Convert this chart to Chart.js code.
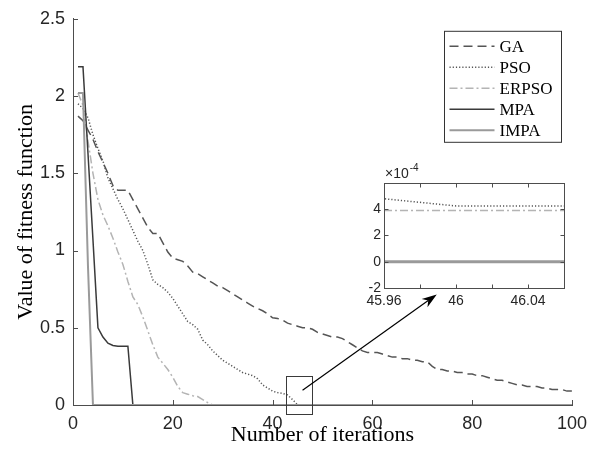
<!DOCTYPE html>
<html>
<head>
<meta charset="utf-8">
<script src="https://cdn.jsdelivr.net/npm/chart.js@4.4.1/dist/chart.umd.min.js"></script>
<style>
  body { margin: 0; background: #fff; }
  #wrap { position: relative; width: 596px; height: 463px; }
  #main { position: absolute; left: 0; top: 0; width: 596px; height: 463px; }
  #zoomBox { position: absolute; left: 340px; top: 160px; width: 240px; height: 155px; }
</style>
</head>
<body>
<div id="wrap">
  <div id="main"><canvas id="mainChart"></canvas></div>
  <div id="zoomBox"><canvas id="insetChart"></canvas></div>
</div>
<script>
// iteration numbers 1..100
const iterations = Array.from({ length: 100 }, (_, i) => i + 1);

const GA = [
  1.87, 1.84, 1.78, 1.72, 1.64, 1.57, 1.50, 1.42, 1.39, 1.39,
  1.39, 1.33, 1.27, 1.21, 1.15, 1.11, 1.11, 1.05, 0.99, 0.95,
  0.94, 0.93, 0.90, 0.86, 0.85, 0.83, 0.81, 0.79, 0.77, 0.76,
  0.74, 0.72, 0.70, 0.68, 0.66, 0.64, 0.625, 0.61, 0.59, 0.565,
  0.56, 0.55, 0.53, 0.52, 0.51, 0.50, 0.50, 0.49, 0.47, 0.46,
  0.45, 0.44, 0.44, 0.43, 0.41, 0.39, 0.37, 0.35, 0.34, 0.34,
  0.34, 0.33, 0.32, 0.31, 0.31, 0.30, 0.30, 0.29, 0.29, 0.28,
  0.28, 0.25, 0.23, 0.23, 0.22, 0.22, 0.21, 0.21, 0.20, 0.20,
  0.19, 0.19, 0.18, 0.17, 0.16, 0.16, 0.15, 0.14, 0.13, 0.13,
  0.12, 0.12, 0.12, 0.11, 0.11, 0.10, 0.10, 0.10, 0.09, 0.09
];
const PSO = [
  1.95, 1.92, 1.86, 1.75, 1.66, 1.58, 1.47, 1.40, 1.33, 1.27,
  1.20, 1.13, 1.06, 1.00, 0.91, 0.81, 0.78, 0.76, 0.73, 0.69,
  0.64, 0.59, 0.54, 0.52, 0.49, 0.42, 0.39, 0.35, 0.32, 0.29,
  0.27, 0.25, 0.23, 0.21, 0.20, 0.19, 0.17, 0.13, 0.11, 0.09,
  0.08, 0.075, 0.065, 0.035, 0.0018, 0.000425, 0.000425, 0.000425, 0.000425, 0.000425,
  0.000425, 0.000425, 0.000425, 0.000425, 0.000425, 0.000425, 0.000425, 0.000425, 0.000425, 0.000425,
  0.000425, 0.000425, 0.000425, 0.000425, 0.000425, 0.000425, 0.000425, 0.000425, 0.000425, 0.000425,
  0.000425, 0.000425, 0.000425, 0.000425, 0.000425, 0.000425, 0.000425, 0.000425, 0.000425, 0.000425,
  0.000425, 0.000425, 0.000425, 0.000425, 0.000425, 0.000425, 0.000425, 0.000425, 0.000425, 0.000425,
  0.000425, 0.000425, 0.000425, 0.000425, 0.000425, 0.000425, 0.000425, 0.000425, 0.000425, 0.000425
];
const ERPSO = [
  2.02, 1.94, 1.71, 1.50, 1.33, 1.23, 1.16, 1.08, 0.99, 0.91,
  0.80, 0.70, 0.65, 0.57, 0.48, 0.39, 0.31, 0.27, 0.23, 0.18,
  0.12, 0.08, 0.07, 0.06, 0.055, 0.035, 0.015, 0.00039, 0.00039, 0.00039,
  0.00039, 0.00039, 0.00039, 0.00039, 0.00039, 0.00039, 0.00039, 0.00039, 0.00039, 0.00039,
  0.00039, 0.00039, 0.00039, 0.00039, 0.00039, 0.00039, 0.00039, 0.00039, 0.00039, 0.00039,
  0.00039, 0.00039, 0.00039, 0.00039, 0.00039, 0.00039, 0.00039, 0.00039, 0.00039, 0.00039,
  0.00039, 0.00039, 0.00039, 0.00039, 0.00039, 0.00039, 0.00039, 0.00039, 0.00039, 0.00039,
  0.00039, 0.00039, 0.00039, 0.00039, 0.00039, 0.00039, 0.00039, 0.00039, 0.00039, 0.00039,
  0.00039, 0.00039, 0.00039, 0.00039, 0.00039, 0.00039, 0.00039, 0.00039, 0.00039, 0.00039,
  0.00039, 0.00039, 0.00039, 0.00039, 0.00039, 0.00039, 0.00039, 0.00039, 0.00039, 0.00039
];
const MPA = [
  2.19, 2.19, 1.63, 1.07, 0.50, 0.44, 0.40, 0.385, 0.38, 0.38,
  0.38, 0, 0, 0, 0, 0, 0, 0, 0, 0,
  0, 0, 0, 0, 0, 0, 0, 0, 0, 0,
  0, 0, 0, 0, 0, 0, 0, 0, 0, 0,
  0, 0, 0, 0, 0, 0, 0, 0, 0, 0,
  0, 0, 0, 0, 0, 0, 0, 0, 0, 0,
  0, 0, 0, 0, 0, 0, 0, 0, 0, 0,
  0, 0, 0, 0, 0, 0, 0, 0, 0, 0,
  0, 0, 0, 0, 0, 0, 0, 0, 0, 0,
  0, 0, 0, 0, 0, 0, 0, 0, 0, 0
];
const IMPA = [
  2.02, 2.02, 0.90, 0, 0, 0, 0, 0, 0, 0,
  0, 0, 0, 0, 0, 0, 0, 0, 0, 0,
  0, 0, 0, 0, 0, 0, 0, 0, 0, 0,
  0, 0, 0, 0, 0, 0, 0, 0, 0, 0,
  0, 0, 0, 0, 0, 0, 0, 0, 0, 0,
  0, 0, 0, 0, 0, 0, 0, 0, 0, 0,
  0, 0, 0, 0, 0, 0, 0, 0, 0, 0,
  0, 0, 0, 0, 0, 0, 0, 0, 0, 0,
  0, 0, 0, 0, 0, 0, 0, 0, 0, 0,
  0, 0, 0, 0, 0, 0, 0, 0, 0, 0
];

const seriesNames = ['GA', 'PSO', 'ERPSO', 'MPA', 'IMPA'];
const seriesValues = [GA, PSO, ERPSO, MPA, IMPA];

const xTicks = [0, 20, 40, 60, 80, 100];
const xTickLabels = ['0', '20', '40', '60', '80', '100'];
const yTicks = [0, 0.5, 1, 1.5, 2, 2.5];
const yTickLabels = ['0', '0.5', '1', '1.5', '2', '2.5'];

const insetXTicks = [45.96, 45.98, 46, 46.02, 46.04, 46.06];
const insetXLabels = ['45.96', '', '46', '', '46.04', ''];
const insetYTicks = [-2e-4, 0, 2e-4, 4e-4, 6e-4];
const insetYLabels = ['-2', '0', '2', '4', ''];

// zoomed window marker and arrow, in data units of the main plot
const zoomRect = { x0: 42.6, x1: 47.8, y0: -0.058, y1: 0.187 };
const arrowFrom = { x: 46.0, y: 0.096 };
const arrowTo = { x: 72.9, y: 0.716 };

const axisColor = '#4d4d4d';
const tickColor = '#262626';
const serif = "'Times New Roman', 'Liberation Serif', serif";
const sans = "Arial, 'Liberation Sans', Helvetica, sans-serif";

const lineStyles = [
  { color: '#555555', dash: [9, 5], width: 1.5 },
  { color: '#555555', dash: [1.2, 2], width: 1.5 },
  { color: '#b4b4b4', dash: [8, 3, 2, 3], width: 1.5 },
  { color: '#3a3a3a', dash: [], width: 1.5 },
  { color: '#9a9a9a', dash: [], width: 2 }
];

function pts(values) {
  return values.map((v, i) => ({ x: iterations[i], y: v }));
}

function makeDatasets(widthBoost) {
  return seriesNames.map((name, k) => ({
    label: name,
    data: pts(seriesValues[k]),
    borderColor: lineStyles[k].color,
    borderDash: lineStyles[k].dash,
    borderWidth: lineStyles[k].width + (k === 4 ? widthBoost : 0),
    pointRadius: 0,
    tension: 0,
    fill: false,
    order: 4 - k
  }));
}

function drawArrow(ctx, x1, y1, x2, y2) {
  const ang = Math.atan2(y2 - y1, x2 - x1);
  const len = 15, half = 5;
  ctx.strokeStyle = '#000';
  ctx.fillStyle = '#000';
  ctx.lineWidth = 1.2;
  ctx.setLineDash([]);
  ctx.beginPath();
  ctx.moveTo(x1, y1);
  ctx.lineTo(x2 - len * 0.7 * Math.cos(ang), y2 - len * 0.7 * Math.sin(ang));
  ctx.stroke();
  ctx.beginPath();
  ctx.moveTo(x2, y2);
  ctx.lineTo(x2 - len * Math.cos(ang) + half * Math.sin(ang), y2 - len * Math.sin(ang) - half * Math.cos(ang));
  ctx.lineTo(x2 - len * 0.7 * Math.cos(ang), y2 - len * 0.7 * Math.sin(ang));
  ctx.lineTo(x2 - len * Math.cos(ang) - half * Math.sin(ang), y2 - len * Math.sin(ang) + half * Math.cos(ang));
  ctx.closePath();
  ctx.fill();
}

const mainDecor = {
  id: 'mainDecor',
  afterDraw(chart) {
    const { ctx, chartArea, scales: { x, y } } = chart;
    ctx.save();
    ctx.setLineDash([]);
    ctx.strokeStyle = axisColor;
    ctx.lineWidth = 1;
    ctx.beginPath();
    xTicks.forEach(v => {
      const px = Math.round(x.getPixelForValue(v)) + 0.5;
      ctx.moveTo(px, chartArea.bottom);
      ctx.lineTo(px, chartArea.bottom - 5);
    });
    yTicks.forEach(v => {
      const py = Math.round(y.getPixelForValue(v)) + 0.5;
      ctx.moveTo(chartArea.left, py);
      ctx.lineTo(chartArea.left + 5, py);
    });
    ctx.stroke();

    // zoom marker
    const rx0 = Math.round(x.getPixelForValue(zoomRect.x0)) + 0.5;
    const rx1 = Math.round(x.getPixelForValue(zoomRect.x1)) + 0.5;
    const ry0 = Math.round(y.getPixelForValue(zoomRect.y1)) + 0.5;
    const ry1 = Math.round(y.getPixelForValue(zoomRect.y0)) + 0.5;
    ctx.strokeStyle = '#3a3a3a';
    ctx.strokeRect(rx0, ry0, rx1 - rx0, ry1 - ry0);

    drawArrow(ctx,
      x.getPixelForValue(arrowFrom.x), y.getPixelForValue(arrowFrom.y),
      x.getPixelForValue(arrowTo.x), y.getPixelForValue(arrowTo.y));

    // legend box
    const bx = chartArea.right - 128 + 0.5, by = chartArea.top + 12 + 0.5;
    const bw = 117, bh = 111;
    ctx.fillStyle = '#fff';
    ctx.fillRect(bx, by, bw, bh);
    ctx.strokeStyle = '#333';
    ctx.lineWidth = 1;
    ctx.setLineDash([]);
    ctx.strokeRect(bx, by, bw, bh);
    ctx.font = '17px ' + serif;
    ctx.textBaseline = 'middle';
    ctx.textAlign = 'left';
    chart.data.datasets.forEach((ds, k) => {
      const ly = by + 15 + k * 21;
      ctx.strokeStyle = ds.borderColor;
      ctx.lineWidth = ds.borderWidth;
      ctx.setLineDash(ds.borderDash);
      ctx.beginPath();
      ctx.moveTo(bx + 5, ly);
      ctx.lineTo(bx + 50, ly);
      ctx.stroke();
      ctx.fillStyle = '#000';
      ctx.fillText(ds.label, bx + 55, ly + 1);
    });
    ctx.restore();
  }
};

new Chart(document.getElementById('mainChart'), {
  type: 'line',
  data: { datasets: makeDatasets(0) },
  options: {
    responsive: true,
    maintainAspectRatio: false,
    animation: false,
    devicePixelRatio: 1,
    layout: { padding: { top: 14, right: 24, left: 0, bottom: 0 } },
    plugins: { legend: { display: false }, tooltip: { enabled: false } },
    scales: {
      x: {
        type: 'linear', min: 0, max: 100,
        afterFit(s) { s.height = 58; },
        afterBuildTicks(s) { s.ticks = xTicks.map(v => ({ value: v })); },
        ticks: {
          autoSkip: false, maxRotation: 0, padding: 8, color: tickColor,
          font: { family: sans, size: 18 },
          callback: (v, i) => xTickLabels[i]
        },
        grid: { display: false, drawTicks: false },
        border: { display: true, color: axisColor, width: 1 },
        title: {
          display: true, text: 'Number of iterations', color: '#000',
          font: { family: serif, size: 22 }, padding: { top: 0, bottom: 15 }
        }
      },
      y: {
        type: 'linear', min: 0, max: 2.5,
        afterFit(s) { s.width = 73; },
        afterBuildTicks(s) { s.ticks = yTicks.map(v => ({ value: v })); },
        ticks: {
          autoSkip: false, padding: 8, color: tickColor,
          font: { family: sans, size: 18 },
          callback: (v, i) => yTickLabels[i]
        },
        grid: { display: false, drawTicks: false },
        border: { display: true, color: axisColor, width: 1 },
        title: {
          display: true, text: 'Value of fitness function', color: '#000',
          font: { family: serif, size: 22 }, padding: { top: 13, bottom: 0 }
        }
      }
    }
  },
  plugins: [mainDecor]
});

const insetDecor = {
  id: 'insetDecor',
  beforeDraw(chart) {
    const { ctx, chartArea: a } = chart;
    ctx.save();
    ctx.fillStyle = '#fff';
    ctx.fillRect(a.left, a.top, a.right - a.left, a.bottom - a.top);
    ctx.restore();
  },
  afterDraw(chart) {
    const { ctx, chartArea: a, scales: { x, y } } = chart;
    ctx.save();
    ctx.setLineDash([]);
    ctx.strokeStyle = axisColor;
    ctx.lineWidth = 1;
    const L = Math.round(a.left) + 0.5, R = Math.round(a.right) + 0.5;
    const T = Math.round(a.top) + 0.5, B = Math.round(a.bottom) + 0.5;
    ctx.strokeRect(L, T, R - L, B - T);
    ctx.beginPath();
    insetXTicks.forEach(v => {
      const px = Math.round(x.getPixelForValue(v)) + 0.5;
      ctx.moveTo(px, B); ctx.lineTo(px, B - 4);
      ctx.moveTo(px, T); ctx.lineTo(px, T + 4);
    });
    insetYTicks.forEach(v => {
      const py = Math.round(y.getPixelForValue(v)) + 0.5;
      ctx.moveTo(L, py); ctx.lineTo(L + 4, py);
      ctx.moveTo(R, py); ctx.lineTo(R - 4, py);
    });
    ctx.stroke();
    // exponent label
    ctx.fillStyle = tickColor;
    ctx.textAlign = 'left';
    ctx.textBaseline = 'alphabetic';
    ctx.font = '14px ' + sans;
    ctx.fillText('\u00d710', a.left + 1, a.top - 5);
    const w = ctx.measureText('\u00d710').width;
    ctx.font = '10px ' + sans;
    ctx.fillText('-4', a.left + 2 + w, a.top - 12);
    ctx.restore();
  }
};

new Chart(document.getElementById('insetChart'), {
  type: 'line',
  data: { datasets: makeDatasets(1) },
  options: {
    responsive: true,
    maintainAspectRatio: false,
    animation: false,
    devicePixelRatio: 1,
    layout: { padding: { top: 23, right: 16, left: 0, bottom: 0 } },
    plugins: { legend: { display: false }, tooltip: { enabled: false } },
    scales: {
      x: {
        type: 'linear', min: 45.96, max: 46.06,
        afterFit(s) { s.height = 27; },
        afterBuildTicks(s) { s.ticks = insetXTicks.map(v => ({ value: v })); },
        ticks: {
          autoSkip: false, maxRotation: 0, padding: 5, color: tickColor,
          font: { family: sans, size: 14 },
          callback: (v, i) => insetXLabels[i]
        },
        grid: { display: false, drawTicks: false },
        border: { display: false }
      },
      y: {
        type: 'linear', min: -2e-4, max: 6e-4,
        afterFit(s) { s.width = 44; },
        afterBuildTicks(s) { s.ticks = insetYTicks.map(v => ({ value: v })); },
        ticks: {
          autoSkip: false, padding: 3, color: tickColor,
          font: { family: sans, size: 14 },
          callback: (v, i) => insetYLabels[i]
        },
        grid: { display: false, drawTicks: false },
        border: { display: false }
      }
    }
  },
  plugins: [insetDecor]
});
</script>
</body>
</html>
